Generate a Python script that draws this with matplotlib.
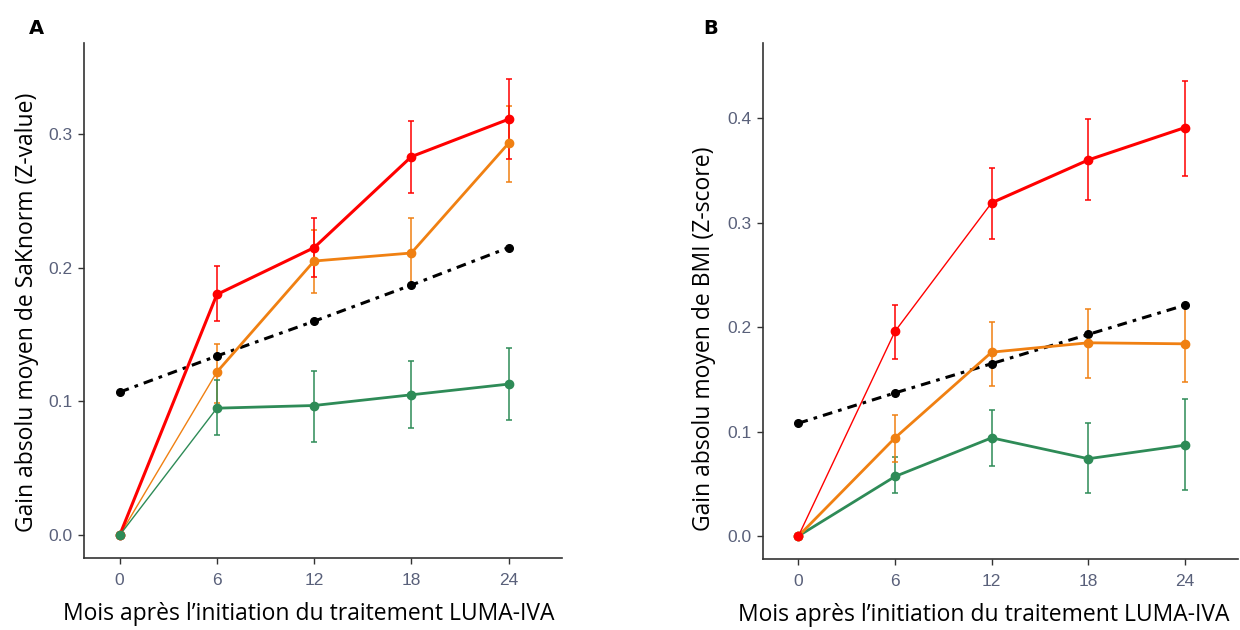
import numpy as np
import matplotlib.pyplot as plt

# Mois de suivi
mois = [0, 6, 12, 18, 24]
xticks = [0, 6, 12, 18, 24]

# Panel A : SaKnorm (Z-value)
a_rouge = [0.0, 0.180, 0.215, 0.283, 0.311]
a_rouge_haut = [0.0, 0.201, 0.237, 0.310, 0.341]
a_rouge_bas = [0.0, 0.160, 0.193, 0.256, 0.281]
a_orange = [0.0, 0.122, 0.205, 0.211, 0.293]
a_orange_haut = [0.0, 0.143, 0.228, 0.237, 0.321]
a_orange_bas = [0.0, 0.099, 0.181, 0.186, 0.264]
a_vert = [0.0, 0.095, 0.097, 0.105, 0.113]
a_vert_haut = [0.0, 0.116, 0.123, 0.130, 0.140]
a_vert_bas = [0.0, 0.075, 0.070, 0.080, 0.086]
a_noir = [0.107, 0.134, 0.160, 0.187, 0.215]
a_yticks = [0.0, 0.1, 0.2, 0.3]

# Panel B : BMI (Z-score)
b_rouge = [0.0, 0.196, 0.319, 0.360, 0.391]
b_rouge_haut = [0.0, 0.221, 0.352, 0.399, 0.436]
b_rouge_bas = [0.0, 0.169, 0.284, 0.322, 0.345]
b_orange = [0.0, 0.094, 0.176, 0.185, 0.184]
b_orange_haut = [0.0, 0.116, 0.205, 0.217, 0.220]
b_orange_bas = [0.0, 0.071, 0.144, 0.151, 0.147]
b_vert = [0.0, 0.057, 0.094, 0.074, 0.087]
b_vert_haut = [0.0, 0.076, 0.121, 0.108, 0.131]
b_vert_bas = [0.0, 0.041, 0.067, 0.041, 0.044]
b_noir = [0.108, 0.137, 0.165, 0.193, 0.221]
b_yticks = [0.0, 0.1, 0.2, 0.3, 0.4]

ROUGE = '#FF0000'
ORANGE = '#F08012'
VERT = '#2E8B57'
GRIS = '#59607A'

xlabel = 'Mois après l’initiation du traitement LUMA-IVA'


def trace_serie(ax, y, haut, bas, couleur, largeurs):
    y = np.array(y)
    err = [y - np.array(bas), np.array(haut) - y]
    ax.errorbar(mois[1:], y[1:], yerr=[err[0][1:], err[1][1:]], fmt='none',
                ecolor=couleur, elinewidth=1.1, capsize=2.5, capthick=1.1, zorder=2)
    # segments avec épaisseur variable
    for i in range(len(mois) - 1):
        ax.plot(mois[i:i + 2], y[i:i + 2], color=couleur, lw=largeurs[i],
                solid_capstyle='round', zorder=3)
    ax.plot(mois, y, 'o', color=couleur, ms=6, zorder=4)


def trace_tendance(ax, y):
    ax.plot(mois, y, color='black', lw=2.2, ls=(0, (3.2, 2.0, 1.2, 2.0)), zorder=3)
    ax.plot(mois, y, 'o', color='black', ms=5.5, zorder=4)


def style_axes(ax, yticks, ylim, ylabel, xl_pos, yl_pos):
    ax.set_xlim(-2.2, 27.3)
    ax.set_ylim(*ylim)
    ax.set_xticks(xticks)
    ax.set_yticks(yticks)
    ax.set_yticklabels([f'{v:.1f}' for v in yticks])
    for s in ['top', 'right']:
        ax.spines[s].set_visible(False)
    for s in ['left', 'bottom']:
        ax.spines[s].set_color('#333333')
        ax.spines[s].set_linewidth(1.2)
    ax.tick_params(axis='both', colors='#333333', length=4, width=1.0,
                   labelsize=12.5, labelcolor=GRIS)
    ax.tick_params(axis='x', pad=7)
    ax.tick_params(axis='y', pad=4)
    for lab in ax.get_xticklabels() + ax.get_yticklabels():
        lab.set_family('Liberation Sans')
    ax.set_xlabel(xlabel, fontsize=16.5, family='Open Sans')
    ax.set_ylabel(ylabel, fontsize=16.5, family='Open Sans')
    ax.xaxis.set_label_coords(*xl_pos)
    ax.yaxis.set_label_coords(*yl_pos)


fig = plt.figure(figsize=(12.4, 6.3), dpi=100)
axA = fig.add_axes([84 / 1240, 1 - 558 / 630, (562 - 84) / 1240, (558 - 43) / 630])
axB = fig.add_axes([763 / 1240, 1 - 559 / 630, (1238 - 763) / 1240, (559 - 43) / 630])

# Panel A
trace_tendance(axA, a_noir)
trace_serie(axA, a_orange, a_orange_haut, a_orange_bas, ORANGE, [1.0, 2.0, 2.0, 2.0])
trace_serie(axA, a_rouge, a_rouge_haut, a_rouge_bas, ROUGE, [2.2, 2.2, 2.2, 2.2])
trace_serie(axA, a_vert, a_vert_haut, a_vert_bas, VERT, [1.0, 2.0, 2.0, 2.0])
style_axes(axA, a_yticks, (-0.017, 0.368), 'Gain absolu moyen de SaKnorm (Z-value)',
           (0.471, -0.085), (-0.094, 0.478))

# Panel B
trace_tendance(axB, b_noir)
trace_serie(axB, b_vert, b_vert_haut, b_vert_bas, VERT, [2.0, 2.0, 2.0, 2.0])
trace_serie(axB, b_orange, b_orange_haut, b_orange_bas, ORANGE, [2.0, 2.0, 2.0, 2.0])
trace_serie(axB, b_rouge, b_rouge_haut, b_rouge_bas, ROUGE, [1.0, 1.0, 2.2, 2.2])
style_axes(axB, b_yticks, (-0.022, 0.472), 'Gain absolu moyen de BMI (Z-score)',
           (0.465, -0.085), (-0.099, 0.426))

fig.text(36 / 1240, 1 - 28 / 630, 'A', fontsize=14, fontweight='bold', ha='center', va='center')
fig.text(711 / 1240, 1 - 28 / 630, 'B', fontsize=14, fontweight='bold', ha='center', va='center')

fig.savefig('out.png', dpi=100)
